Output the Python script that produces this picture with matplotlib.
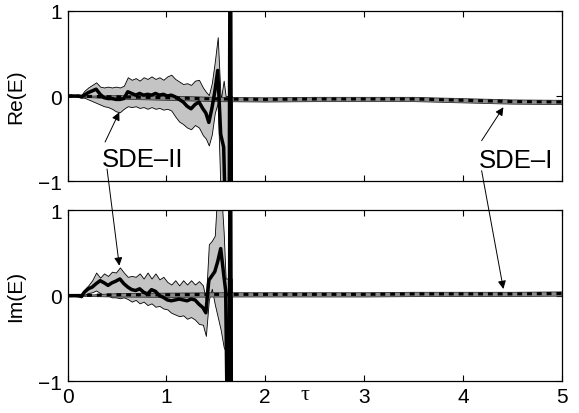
import matplotlib
matplotlib.use("Agg")
import matplotlib.pyplot as plt
import numpy as np

plt.rcParams['font.family'] = ['Liberation Sans', 'DejaVu Sans']

# ---- SDE-I (smooth, long-time stable) ----
tau1 = [0, 0.5, 1.0, 1.5, 2.0, 2.5, 3.0, 3.5, 4.0, 4.5, 5.0]
re1 = [0, -0.01, -0.02, -0.035, -0.04, -0.035, -0.035, -0.035, -0.05, -0.065, -0.07]
im1 = [0, 0.01, 0.01, 0.015, 0.015, 0.015, 0.015, 0.02, 0.02, 0.02, 0.025]
sd1 = [0.0, 0.02, 0.025, 0.025, 0.025, 0.025, 0.025, 0.025, 0.025, 0.025, 0.025]

# ---- SDE-II (noisy, diverging near tau ~ 1.65) ----
tau2 = [0, 0.06, 0.11, 0.14, 0.17, 0.21, 0.25, 0.29, 0.33, 0.37, 0.41, 0.45, 0.49,
        0.53, 0.57, 0.61, 0.65, 0.69, 0.73, 0.77, 0.81, 0.85, 0.89, 0.93, 0.97,
        1.01, 1.05, 1.09, 1.13, 1.17, 1.21, 1.25, 1.29, 1.33, 1.37, 1.40, 1.43,
        1.46, 1.49, 1.52, 1.55, 1.58, 1.60, 1.632, 1.647, 1.662]

re2 = [0, 0, 0, -0.01, 0.01, 0.04, 0.06, 0.08, 0.02, -0.02, -0.03, -0.03, -0.04,
       -0.04, -0.03, 0.05, 0.03, 0.01, 0.03, 0.01, 0.02, 0.01, 0.03, 0.01, 0.02,
       0.0, 0.01, -0.01, -0.04, -0.07, -0.12, -0.15, -0.10, -0.07, -0.15, -0.20, -0.31,
       -0.15, 0.05, 0.30, -0.45, -0.60, -1.5, -3, 3, -3]
re2_up = [0.005, 0.005, 0.005, 0.01, 0.06, 0.10, 0.13, 0.16, 0.11, 0.10, 0.11, 0.10, 0.11,
          0.10, 0.12, 0.22, 0.19, 0.21, 0.18, 0.22, 0.20, 0.23, 0.20, 0.22, 0.19,
          0.23, 0.25, 0.20, 0.17, 0.14, 0.15, 0.13, 0.18, 0.19, 0.10, 0.05, 0.01,
          0.15, 0.40, 0.69, -0.05, 0.18, 0.0, 0.0, 0.0, 0.0]
re2_lo = [-0.005, -0.005, -0.01, -0.02, -0.02, -0.04, -0.06, -0.08, -0.10, -0.12, -0.13, -0.15, -0.18,
          -0.19, -0.15, -0.12, -0.13, -0.12, -0.14, -0.13, -0.15, -0.13, -0.15, -0.14, -0.16,
          -0.15, -0.17, -0.24, -0.30, -0.33, -0.37, -0.39, -0.34, -0.37, -0.46, -0.50, -0.58,
          -0.45, -0.20, -0.08, -1.2, -1.3, -1.5, -1.5, -1.5, -1.5]

im2 = [0, 0, 0, -0.01, 0.04, 0.08, 0.10, 0.14, 0.175, 0.15, 0.12, 0.15, 0.17,
       0.195, 0.14, 0.10, 0.07, 0.06, 0.08, 0.04, 0.02, 0.07, 0.05, 0.0, -0.02,
       -0.05, -0.06, -0.05, -0.04, -0.05, -0.06, -0.04, -0.05, -0.10, -0.14, -0.20, 0.18,
       0.23, 0.28, 0.40, 0.55, 0.25, 0.06, -3, 3, -3]
im2_up = [0.005, 0.005, 0.005, 0.02, 0.07, 0.12, 0.18, 0.27, 0.21, 0.26, 0.23, 0.28, 0.27,
          0.33, 0.27, 0.22, 0.23, 0.22, 0.26, 0.20, 0.27, 0.20, 0.26, 0.19, 0.22,
          0.16, 0.13, 0.18, 0.12, 0.18, 0.13, 0.18, 0.13, 0.17, 0.12, -0.05, 0.60,
          0.64, 0.70, 1.3, 1.3, 0.74, 0.20, 0.2, 0.2, 0.2]
im2_lo = [-0.005, -0.005, -0.01, -0.02, 0.01, 0.03, 0.04, 0.06, 0.03, 0.01, 0.0, -0.02, -0.02,
          -0.03, -0.02, -0.04, -0.07, -0.05, -0.09, -0.07, -0.11, -0.09, -0.13, -0.12, -0.15,
          -0.16, -0.20, -0.22, -0.24, -0.23, -0.27, -0.25, -0.28, -0.33, -0.34, -0.47, -0.05,
          0.08, -0.10, -0.25, -0.40, -0.60, -0.65, -1.5, -1.5, -1.5]

fig = plt.figure(figsize=(5.79, 4.14), dpi=100)
ax1 = fig.add_axes([0.1166, 0.5597, 0.8535, 0.4120])
ax2 = fig.add_axes([0.1166, 0.0766, 0.8535, 0.4137])

def draw(ax, m2, u2, l2, m1):
    t1 = np.array(tau1); v1 = np.array(m1); s1 = np.array(sd1)
    ax.fill_between(tau2, l2, u2, facecolor='#c4c4c4', edgecolor='k', lw=0.6, zorder=1)
    ax.fill_between(t1, v1 - s1, v1 + s1, facecolor='#8a8a8a', edgecolor='#333333', lw=0.6, zorder=2)
    ax.plot(t1, v1, color='k', lw=2.2, dashes=(1.6, 1.6), zorder=3)
    ax.plot(tau2, m2, color='k', lw=2.5, zorder=4)
    ax.set_xlim(0, 5)
    ax.set_ylim(-1, 1)
    ax.set_yticks([-1, 0, 1])
    ax.set_xticks([0, 1, 2, 3, 4, 5])
    ax.tick_params(direction='in', length=4, width=0.8, top=True, right=True,
                   labelsize=15, pad=4)
    for s in ax.spines.values():
        s.set_linewidth(0.9)

draw(ax1, re2, re2_up, re2_lo, re1)
draw(ax2, im2, im2_up, im2_lo, im1)
ax1.set_xticklabels([])

ax1.set_ylabel('Re(E)', fontsize=15)
ax2.set_ylabel('Im(E)', fontsize=15)
ax1.yaxis.set_label_coords(-0.085, 0.5)
ax2.yaxis.set_label_coords(-0.085, 0.5)

ax2.text(2.4, -0.103, 'τ', transform=ax2.get_xaxis_transform(), ha='center',
         va='baseline', fontsize=16, family=['Liberation Serif', 'DejaVu Serif'])

# labels
ax1.text(0.759, -0.817, 'SDE–II', fontsize=18.5, ha='center', va='baseline', zorder=6)
ax1.text(4.54, -0.836, 'SDE–I', fontsize=18.5, ha='center', va='baseline', zorder=6)

ap = dict(arrowstyle='-|>', color='k', lw=0.7, shrinkA=0, shrinkB=0, mutation_scale=12)
ax1.annotate('', xy=(0.524, -0.19), xytext=(0.38, -0.54), arrowprops=ap, zorder=6)
ax1.annotate('', xy=(4.41, -0.132), xytext=(4.19, -0.524), arrowprops=ap, zorder=6)
ax2.annotate('', xy=(0.524, 0.35), xycoords=ax2.transData,
             xytext=(0.40, -0.856), textcoords=ax1.transData,
             arrowprops=ap, annotation_clip=False, zorder=6)
ax2.annotate('', xy=(4.41, 0.078), xycoords=ax2.transData,
             xytext=(4.19, -0.876), textcoords=ax1.transData,
             arrowprops=ap, annotation_clip=False, zorder=6)

fig.savefig('out.png', dpi=100)
